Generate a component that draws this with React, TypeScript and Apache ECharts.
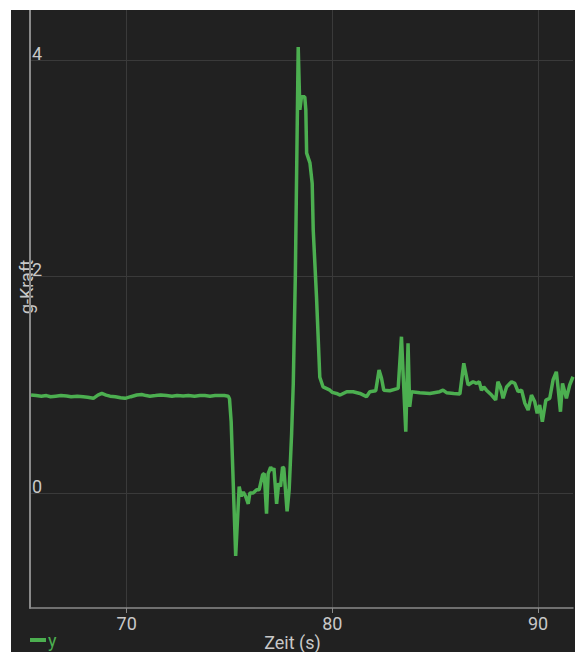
import React, { useEffect, useRef } from "react";
import * as echarts from "echarts";

const timeS = [
  65.35, 65.6, 65.85, 66.1, 66.3, 66.55, 66.8, 67.08, 67.3, 67.6, 67.89, 68.1, 68.38, 68.6, 68.79, 69.0, 69.19, 69.45, 69.7, 69.92,
  70.2, 70.49, 70.73, 70.95, 71.13, 71.4, 71.65, 71.94, 72.2, 72.45, 72.75, 73.0, 73.3, 73.56, 73.8, 74.05, 74.3, 74.53, 74.75, 74.94,
  75.0, 75.08, 75.16, 75.3, 75.47, 75.57, 75.67, 75.78, 75.91, 75.99, 76.15, 76.32, 76.44, 76.61, 76.69, 76.8, 76.88, 77.0, 77.09, 77.16,
  77.29, 77.39, 77.48, 77.58, 77.64, 77.8, 77.9, 78.02, 78.1, 78.2, 78.34, 78.42, 78.5, 78.66, 78.71, 78.75, 78.91, 79.02, 79.07, 79.23,
  79.39, 79.55, 79.88, 80.0, 80.2, 80.38, 80.7, 81.01, 81.34, 81.66, 81.82, 82.11, 82.27, 82.39, 82.5, 82.79, 83.2, 83.36, 83.47, 83.57,
  83.68, 83.76, 83.85, 84.25, 84.74, 85.22, 85.38, 85.55, 85.9, 86.2, 86.39, 86.52, 86.6, 86.84, 87.01, 87.14, 87.25, 87.36, 87.49, 87.74,
  87.94, 88.05, 88.17, 88.3, 88.47, 88.71, 88.87, 89.03, 89.2, 89.36, 89.52, 89.68, 89.84, 89.96, 90.08, 90.21, 90.38, 90.57, 90.73, 90.89,
  90.97, 91.09, 91.19, 91.38, 91.54, 91.7,
];

const gForce = [
  0.905, 0.9, 0.895, 0.9, 0.89, 0.895, 0.9, 0.896, 0.89, 0.895, 0.89, 0.885, 0.875, 0.905, 0.92, 0.905, 0.895, 0.89, 0.88, 0.875,
  0.89, 0.905, 0.91, 0.9, 0.895, 0.9, 0.905, 0.9, 0.895, 0.9, 0.897, 0.9, 0.895, 0.9, 0.9, 0.895, 0.9, 0.9, 0.9, 0.895,
  0.87, 0.66, 0.21, -0.58, 0.06, -0.03, 0.01, -0.03, -0.1, 0.0, 0.0, 0.03, 0.03, 0.17, 0.18, -0.19, 0.18, 0.24, 0.21, 0.23,
  -0.1, 0.09, 0.06, 0.24, 0.23, -0.17, 0.03, 0.55, 1.01, 2.0, 4.12, 3.54, 3.66, 3.66, 3.54, 3.14, 3.05, 2.86, 2.43, 1.81,
  1.07, 0.98, 0.95, 0.93, 0.92, 0.905, 0.936, 0.936, 0.92, 0.89, 0.936, 0.945, 1.136, 1.06, 0.95, 0.945, 0.967, 1.444, 0.98, 0.566,
  1.383, 0.797, 0.936, 0.927, 0.92, 0.936, 0.95, 0.927, 0.92, 0.915, 1.198, 1.074, 0.998, 1.028, 1.013, 1.028, 0.95, 0.98, 0.95, 0.905,
  0.86, 1.028, 0.98, 0.875, 0.98, 1.028, 1.013, 0.936, 0.95, 0.829, 0.767, 0.905, 0.843, 0.736, 0.813, 0.659, 0.859, 0.875, 1.044, 1.12,
  0.98, 0.751, 1.013, 0.875, 0.998, 1.074,
];

const xTicks = [70, 80, 90];
const yTicks = [0, 2, 4];
const seriesName = "y";
const xTitle = "Zeit (s)";
const yTitle = "g-Kraft";

export default function App() {
  const ref = useRef<HTMLDivElement>(null);
  useEffect(() => {
    const chart = echarts.init(ref.current!, null, { renderer: "svg" });
    const data = timeS.map((t, i) => [t, gForce[i]]);
    const font = "Roboto";
    chart.setOption({
      animation: false,
      backgroundColor: "#212121",
      textStyle: { fontFamily: font },
      grid: { left: 19, top: 0, right: 2, bottom: 44, containLabel: false },
      legend: {
        data: [seriesName],
        left: 19,
        top: 621,
        padding: 0,
        icon: "rect",
        itemWidth: 16,
        itemHeight: 4,
        textStyle: { color: "#4caf50", fontSize: 18, fontFamily: font, padding: [0, 0, 0, -3] },
      },
      xAxis: {
        type: "value",
        min: 65.3,
        max: 91.7,
        axisLine: { show: true, onZero: false, lineStyle: { color: "#8a8a8a", width: 1.5 } },
        axisTick: { show: true, length: 5, customValues: xTicks, lineStyle: { color: "#8a8a8a" } },
        axisLabel: { customValues: xTicks, color: "#c8c8c8", fontSize: 18, margin: 6, fontFamily: font },
        splitLine: { show: true, lineStyle: { color: "#3a3a3a", width: 1 } },
      },
      yAxis: {
        type: "value",
        min: -1.062,
        max: 4.462,
        axisLine: { show: true, onZero: false, lineStyle: { color: "#8a8a8a", width: 2 } },
        axisTick: { show: false, customValues: yTicks },
        axisLabel: {
          customValues: yTicks,
          inside: true,
          color: "#c8c8c8",
          fontSize: 18,
          margin: 2,
          align: "left",
          verticalAlign: "bottom",
          lineHeight: 14,
          fontFamily: font,
        },
        splitLine: { show: true, lineStyle: { color: "#3a3a3a", width: 1 } },
      },
      graphic: [
        {
          type: "text",
          x: 15,
          y: 277,
          rotation: Math.PI / 2,
          style: { text: yTitle, fill: "#c8c8c8", fontSize: 18, fontFamily: font, align: "center", verticalAlign: "middle" },
        },
        {
          type: "text",
          x: 281.5,
          y: 632,
          style: { text: xTitle, fill: "#c8c8c8", fontSize: 18, fontFamily: font, align: "center", verticalAlign: "middle" },
        },
      ],
      series: [
        {
          name: seriesName,
          type: "line",
          data,
          showSymbol: false,
          symbol: "none",
          lineStyle: { color: "#4caf50", width: 3.5 },
          itemStyle: { color: "#4caf50" },
        },
      ],
    });
    return () => chart.dispose();
  }, []);
  return <div ref={ref} style={{ position: "absolute", left: 11, top: 10, width: 564, height: 642 }} />;
}
